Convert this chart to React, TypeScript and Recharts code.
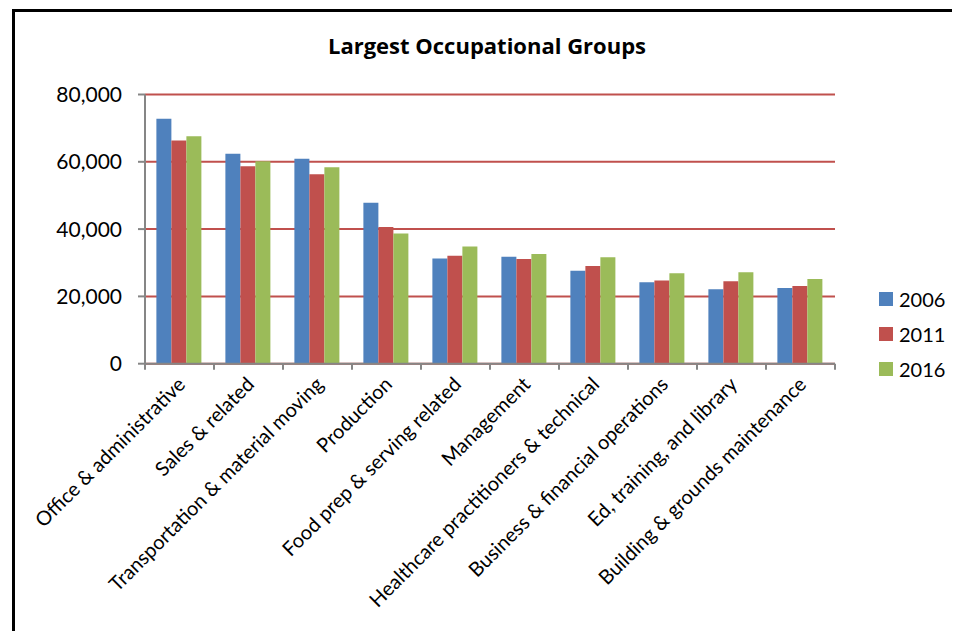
import React from 'react';
import { BarChart, Bar, XAxis, YAxis, CartesianGrid } from 'recharts';

const categories = [
  'Office & administrative',
  'Sales & related',
  'Transportation & material moving',
  'Production',
  'Food prep & serving related',
  'Management',
  'Healthcare practitioners & technical',
  'Business & financial operations',
  'Ed, training, and library',
  'Building & grounds maintenance',
];
const values2006 = [72800, 62400, 60900, 47800, 31300, 31800, 27600, 24200, 22100, 22500];
const values2011 = [66300, 58700, 56300, 40600, 32100, 31100, 29000, 24700, 24500, 23100];
const values2016 = [67600, 60200, 58400, 38700, 34800, 32600, 31600, 26900, 27200, 25200];
const yTicks = [0, 20000, 40000, 60000, 80000];

const series = [
  { key: 'y2006', name: '2006', color: '#4F81BD' },
  { key: 'y2011', name: '2011', color: '#C0504D' },
  { key: 'y2016', name: '2016', color: '#9BBB59' },
];

const data = categories.map((name, i) => ({
  name,
  y2006: values2006[i],
  y2011: values2011[i],
  y2016: values2016[i],
}));

const FONT = 'Lato, "Open Sans", sans-serif';

// tick label + tick marks on category boundaries (Excel style)
const CategoryTick = (props: any) => {
  const { x, y, payload, index, width } = props;
  const band = (width ?? 690) / categories.length;
  const left = x - band / 2;
  return (
    <g>
      <line x1={left} y1={y} x2={left} y2={y + 6} stroke="#868686" strokeWidth={2} />
      {index === categories.length - 1 && (
        <line x1={x + band / 2} y1={y} x2={x + band / 2} y2={y + 6} stroke="#868686" strokeWidth={2} />
      )}
      <text
        x={x + 7}
        y={y + 22}
        transform={`rotate(-45, ${x + 7}, ${y + 22})`}
        textAnchor="end"
        fontSize={20}
        fontFamily={FONT}
        fill="#000"
      >
        {payload.value}
      </text>
    </g>
  );
};

export default function App() {
  return (
    <div style={{ position: 'relative', width: 952, height: 623, background: '#fff', overflow: 'hidden' }}>
      <style>{'html, body { overflow: hidden; }'}</style>
      <div
        style={{
          position: 'absolute',
          left: 4,
          top: 1,
          width: 948,
          height: 622,
          boxSizing: 'border-box',
          borderLeft: '3px solid #000',
          borderTop: '3px solid #000',
        }}
      />
      <div
        style={{
          position: 'absolute',
          top: 22,
          left: 0,
          width: 952,
          textAlign: 'center',
          fontFamily: '"Open Sans", sans-serif',
          fontWeight: 700,
          fontSize: 22,
          paddingLeft: 6,
          boxSizing: 'border-box',
        }}
      >
        Largest Occupational Groups
      </div>
      <div style={{ position: 'absolute', left: 0, top: 0 }}>
        <BarChart
          width={952}
          height={623}
          data={data}
          margin={{ top: 86.5, right: 125, left: 0, bottom: 67.3 }}
          barCategoryGap="16.5%"
          barGap={0}
        >
          <CartesianGrid vertical={false} stroke="#C0504D" strokeWidth={2} />
          <XAxis
            dataKey="name"
            interval={0}
            height={200}
            tickSize={0}
            tickMargin={0}
            tickLine={false}
            axisLine={{ stroke: '#868686', strokeWidth: 2 }}
            tick={<CategoryTick />}
          />
          <YAxis
            width={137}
            domain={[0, 80000]}
            ticks={yTicks}
            tickSize={7}
            tickMargin={16}
            tickLine={{ stroke: '#868686', strokeWidth: 2 }}
            axisLine={{ stroke: '#868686', strokeWidth: 2 }}
            tickFormatter={(v: number) => v.toLocaleString('en-US')}
            tick={{ fontSize: 21, fontFamily: FONT, fill: '#000' }}
          />
          {series.map((s) => (
            <Bar key={s.key} dataKey={s.key} name={s.name} fill={s.color} isAnimationActive={false} />
          ))}
        </BarChart>
      </div>
      <div style={{ position: 'absolute', left: 871, top: 273, fontFamily: FONT, fontSize: 20, color: '#000' }}>
        {series.map((s) => (
          <div key={s.key} style={{ display: 'flex', alignItems: 'center', height: 35 }}>
            <span style={{ display: 'inline-block', width: 14, height: 14, background: s.color, marginRight: 6 }} />
            <span>{s.name}</span>
          </div>
        ))}
      </div>
    </div>
  );
}
